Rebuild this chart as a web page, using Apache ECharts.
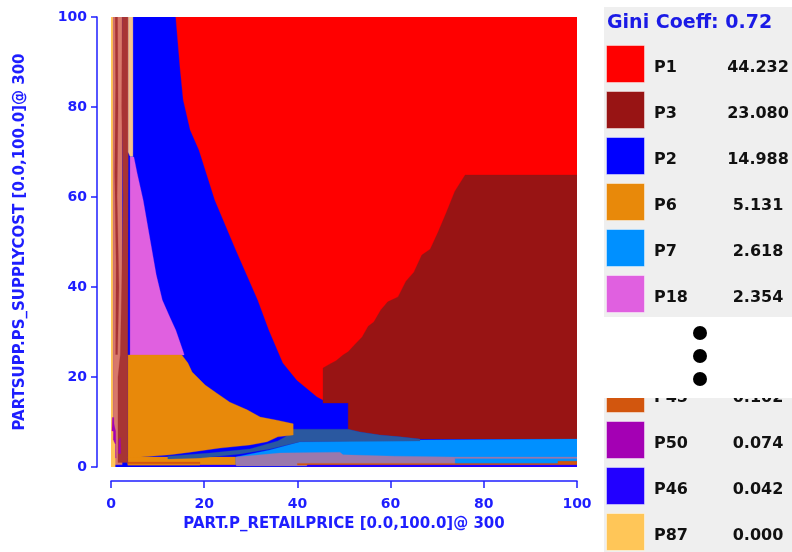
<!DOCTYPE html>
<html><head><meta charset="utf-8">
<script src="https://cdn.jsdelivr.net/npm/echarts@6/dist/echarts.min.js"></script>
<style>html,body{margin:0;padding:0;background:#fff}#c{width:792px;height:552px}</style>
</head><body><div id="c"></div>
<script>
// ---------- axis ticks ----------
const xTicks = [0, 20, 40, 60, 80, 100];
const yTicks = [0, 20, 40, 60, 80, 100];
const xName = 'PART.P_RETAILPRICE [0.0,100.0]@ 300';
const yName = 'PARTSUPP.PS_SUPPLYCOST [0.0,100.0]@ 300';

// ---------- legend ----------
const giniText = 'Gini Coeff: 0.72';
const topPlans = ['P1', 'P3', 'P2', 'P6', 'P7', 'P18'];
const topValues = ['44.232', '23.080', '14.988', '5.131', '2.618', '2.354'];
const bottomPlans = ['P45', 'P50', 'P46', 'P87'];
const bottomValues = ['0.102', '0.074', '0.042', '0.000'];

// ---------- plan regions (data coords: retail price %, supply cost %) ----------
const regionP2 = [[0,0],[100,0],[100,100],[0,100]];
const regionP1 = [[13.9,100],[100,100],[100,14.9],[45.5,14.9],[44.2,15.6],[39.9,19.3],[36.9,23.1],[33.9,30.4],[31.5,37.1],[26.8,48.2],[22.3,59.3],[18.9,70.4],[17.0,74.9],[15.5,81.6],[14.8,88.9]];
const regionP3 = [[100,64.9],[76.0,64.9],[73.8,61.3],[71.9,56.4],[70.2,52.2],[68.5,48.4],[66.7,47.1],[65.0,43.3],[63.3,41.3],[61.6,37.8],[59.4,36.7],[57.9,34.9],[56.4,32.2],[55.2,31.3],[53.9,28.9],[52.4,27.3],[50.9,25.6],[49.8,24.9],[48.3,23.6],[47.0,22.9],[45.5,22.0],[45.5,14.2],[50.9,14.2],[50.9,8.4],[53.4,7.8],[57.7,7.1],[62.0,6.7],[66.3,6.2],[100,6.2]];
const regionP18 = [[4.1,68.9],[4.9,68.9],[5.6,65.3],[6.9,59.3],[8.4,50.4],[9.7,42.7],[11.0,37.1],[12.7,33.1],[13.9,30.4],[15.5,25.6],[15.7,24.9],[4.1,24.9]];
const regionP6 = [[3.6,24.9],[15.2,24.9],[16.5,23.1],[17.4,21.1],[20.2,18.2],[22.7,16.4],[25.5,14.4],[29.2,12.7],[32.0,11.1],[35.6,10.4],[39.1,9.6],[39.1,7.1],[35.8,6.7],[33.5,5.6],[29.8,4.9],[23.4,4.2],[17.0,3.3],[12.7,2.7],[3.6,2.0]];
const regionP6b = [[3.6,0.4],[26.8,0.4],[26.8,2.2],[3.6,2.2]];
const regionP7 = [[26.8,2.2],[34.1,3.8],[40.6,5.6],[66.3,6.0],[100,6.2],[100,0.7],[26.8,0.7]];
const regionSteel = [[12.2,2.4],[21.2,3.1],[29.8,4.0],[35.8,5.8],[38.4,7.3],[39.1,8.4],[50.9,8.4],[53.4,7.8],[57.7,7.1],[62.0,6.7],[66.3,6.2],[66.3,5.8],[40.6,5.6],[34.1,4.0],[27.7,2.9],[19.1,2.0],[12.2,1.8]];
const regionGrayPurple = [[26.8,2.2],[36.3,3.1],[49.1,3.3],[49.8,2.7],[60.9,2.4],[73.8,2.2],[100,2.2],[100,1.9],[73.8,1.9],[73.8,0.2],[26.8,0.2]];
const regionP45a = [[40.0,0.45],[100,0.45],[100,0.8],[40.0,0.8]];
const regionP45b = [[95.9,0.45],[100,0.45],[100,1.3],[95.9,1.3]];
const regionP45c = [[3.6,0.7],[19.1,0.7],[19.1,1.1],[3.6,1.1]];
const regionP46a = [[42.1,0],[100,0],[100,0.45],[42.1,0.45]];
const regionP46b = [[19.1,0],[26.8,0],[26.8,0.45],[19.1,0.45]];
const regionP87 = [[0,0],[0.45,0],[0.45,100],[0,100]];
const regionP87b = [[0,0],[0.9,0],[0.9,5],[0.45,6],[0,6]];
const regionSalmon = [[0.45,0.5],[2.4,0.5],[2.4,100],[0.45,100]];
const regionBrownThin = [[0.9,100],[1.4,100],[1.5,80],[1.3,60],[1.7,40],[1.4,25],[1.0,25],[1.1,45],[0.8,65],[1.0,85]];
const regionBrown = [[2.4,100],[3.7,100],[3.7,68],[3.6,25],[3.6,1],[1.5,1],[1.5,20],[2.0,25],[2.3,40],[2.6,60],[2.3,80]];
const regionPeach = [[3.7,100],[4.7,100],[4.7,69],[4.1,69],[3.7,70]];
const regionP50a = [[0.45,2],[1.1,2],[1.0,8],[0.6,9.5]];
const regionP50b = [[1.6,3],[2.1,3],[2.0,6.5],[1.7,6]];
const regionP50c = [[0.2,8],[0.7,8],[0.6,11],[0.3,11]];

// drawing order (painter's order)
const layers = [
  ['P2', regionP2], ['P1', regionP1], ['P3', regionP3], ['P18', regionP18],
  ['P6', regionP6b], ['P7', regionP7], ['Pst', regionSteel], ['Pgp', regionGrayPurple],
  ['P6', regionP6], ['P45', regionP45a], ['P45', regionP45b], ['P45', regionP45c],
  ['P46', regionP46a], ['P46', regionP46b],
  ['P87', regionP87], ['Psa', regionSalmon], ['Pbr', regionBrownThin], ['Pbr', regionBrown],
  ['Ppe', regionPeach], ['P50', regionP50a], ['P50', regionP50b], ['P50', regionP50c], ['P87', regionP87b]
];

// ---------- styles ----------
const planColors = {
  P1: '#ff0000', P3: '#981414', P2: '#0000ff', P6: '#e8890a', P7: '#0090ff', P18: '#e060e0',
  P45: '#d2560e', P50: '#a400b4', P46: '#2200ff', P87: '#ffc658',
  Pst: '#2a58a0', Pgp: '#9a78ac', Psa: '#d8786a', Pbr: '#a83434', Ppe: '#f5c48c'
};
const axisBlue = '#1e1eff';
const FONT = '"DejaVu Sans", sans-serif';

const graphics = [];
graphics.push({type:'rect', z:1, shape:{x:604, y:7, width:188, height:310}, style:{fill:'#efefef'}});
graphics.push({type:'rect', z:1, shape:{x:604, y:398, width:188, height:154}, style:{fill:'#efefef'}});
graphics.push({type:'text', z:2, x:607, y:23, style:{text:giniText, font:'bold 19px ' + FONT, fill:'#1a1ae6', align:'left', verticalAlign:'middle'}});
function addEntry(plan, val, top) {
  graphics.push({type:'rect', z:2, shape:{x:606.5, y:top + 0.5, width:38, height:37}, style:{fill:planColors[plan], stroke:'rgba(255,255,255,0.45)', lineWidth:1}});
  graphics.push({type:'text', z:2, x:654, y:top + 23, style:{text:plan, font:'bold 16px ' + FONT, fill:'#111', align:'left', verticalAlign:'middle'}});
  graphics.push({type:'text', z:2, x:758, y:top + 23, style:{text:val, font:'bold 16px ' + FONT, fill:'#111', align:'center', verticalAlign:'middle'}});
}
topPlans.forEach((p, i) => addEntry(p, topValues[i], 45 + 46 * i));
bottomPlans.forEach((p, i) => addEntry(p, bottomValues[i], 375 + 46 * i));
graphics.push({type:'rect', z:3, shape:{x:600, y:317, width:192, height:81}, style:{fill:'#ffffff'}});
[333, 356, 379].forEach(cy => graphics.push({type:'circle', z:4, shape:{cx:700, cy:cy, r:7}, style:{fill:'#000'}}));

const chart = echarts.init(document.getElementById('c'), null, {renderer:'canvas'});
chart.setOption({
  animation: false,
  backgroundColor: '#ffffff',
  grid: {left:111, right:215, top:17, bottom:85, containLabel:false},
  xAxis: {
    type:'value', min:0, max:100, interval:20, offset:14,
    name:xName, nameLocation:'middle', nameGap:36,
    nameTextStyle:{color:axisBlue, fontFamily:FONT, fontWeight:'bold', fontSize:15},
    axisLine:{show:true, onZero:false, lineStyle:{color:axisBlue, width:1.5}},
    axisTick:{show:true, length:7, lineStyle:{color:axisBlue, width:1.5}},
    axisLabel:{color:axisBlue, fontFamily:FONT, fontWeight:'bold', fontSize:14, margin:16,
      formatter: v => xTicks.includes(v) ? String(v) : ''},
    splitLine:{show:false}
  },
  yAxis: {
    type:'value', min:0, max:100, interval:20, offset:14,
    name:yName, nameLocation:'middle', nameGap:69,
    nameTextStyle:{color:axisBlue, fontFamily:FONT, fontWeight:'bold', fontSize:15},
    axisLine:{show:true, onZero:false, lineStyle:{color:axisBlue, width:1.5}},
    axisTick:{show:true, length:6, lineStyle:{color:axisBlue, width:1.5}},
    axisLabel:{color:axisBlue, fontFamily:FONT, fontWeight:'bold', fontSize:14, margin:10,
      formatter: v => yTicks.includes(v) ? String(v) : ''},
    splitLine:{show:false}
  },
  series: [{
    type:'custom',
    coordinateSystem:'cartesian2d',
    clip:true,
    data: layers.map(l => ({name:l[0], value:l[1][0]})),
    renderItem: function (params, api) {
      const layer = layers[params.dataIndex];
      const pts = layer[1].map(p => api.coord(p));
      return {type:'polygon', shape:{points:pts}, style:{fill:planColors[layer[0]], stroke:planColors[layer[0]], lineWidth:0.3}};
    }
  }],
  graphic: graphics
});
</script></body></html>
